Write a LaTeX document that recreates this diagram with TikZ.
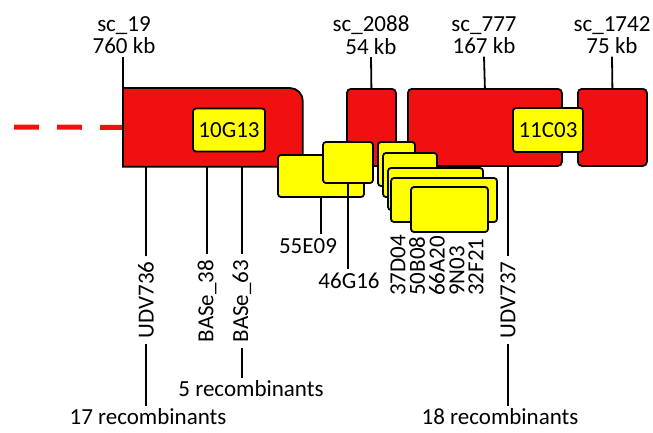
\documentclass[tikz,border=0pt]{standalone}
\usepackage{fontspec}
\setmainfont{Carlito}
\usetikzlibrary{positioning}

\definecolor{contigred}{RGB}{240,16,16}
\definecolor{bacyellow}{RGB}{255,255,0}

\tikzset{
  contig/.style={draw=black, fill=contigred, rounded corners=4pt, inner sep=0pt, minimum height=77pt},
  bigcontig/.style={draw=black, fill=contigred},
  bac/.style={draw=black, fill=bacyellow, rounded corners=3pt, inner sep=0pt},
  lbl/.style={align=center, inner sep=2pt},
  marker/.style={rotate=90, inner sep=5pt},
  recs/.style={inner sep=2pt},
  tail/.style={draw=contigred, line width=5pt, dash pattern=on 25pt off 18pt},
}

\begin{document}
\begin{tikzpicture}[x=1pt,y=-1pt,line width=1.8pt,font=\fontsize{23}{22.5}\selectfont]
    \useasboundingbox (0,0) rectangle (653,432);

    % scaffolds
    \node[inner sep=0pt, minimum width=178pt, minimum height=77pt, anchor=north west] (sc19) at (123,88) {};
    \coordinate (tailend) at (14,127);
    \draw[tail] (tailend) -- (sc19.west);
    \draw[bigcontig] (sc19.south west) -- (sc19.north west) [rounded corners=13pt] -- (sc19.north east) [sharp corners] -- (sc19.south east) -- cycle;
    \node[contig, minimum width=49pt, anchor=north west] (sc2088) at (346,88) {};
    \node[contig, minimum width=154pt, anchor=north west] (sc777) at (407,88) {};
    \node[contig, minimum width=69pt, anchor=north west] (sc1742) at (577,88) {};

    \node[lbl] (sc19lbl) at (124,35) {sc\_19\\760 kb};
    \node[lbl] (sc2088lbl) at (371,35) {sc\_2088\\54 kb};
    \node[lbl] (sc777lbl) at (484,35) {sc\_777\\167 kb};
    \node[lbl] (sc1742lbl) at (612,35) {sc\_1742\\75 kb};
    \draw (sc19lbl.south -| sc19.north west) -- (sc19.north west);
    \draw (sc2088lbl.south) -- (sc2088.north);
    \draw (sc777lbl.south) -- (sc777.north);
    \draw (sc1742lbl.south) -- (sc1742.north);

    % BAC clones
    \node[bac, minimum width=72pt, minimum height=43pt] (c10G13) at (229,130) {10G13};
    \node[bac, minimum width=70pt, minimum height=44pt] (c11C03) at (548,130) {11C03};
    \node[bac, minimum width=86pt, minimum height=42pt] (c55E09) at (321,176) {};
    \node[bac, minimum width=50pt, minimum height=41pt] (c46G16) at (348,162.5) {};
    \node (l55E09) at (308,246) {55E09};
    \node (l46G16) at (349,281) {46G16};
    \draw (c55E09.south) -- (c55E09.south |- l55E09.north);
    \draw (c46G16.south) -- (l46G16.north -| c46G16.south);
    \node[bac, minimum width=37pt, minimum height=44pt] (c37D04) at (396.5,164) {};
    \node[bac, minimum width=54pt, minimum height=44pt] (c50B08) at (410,175) {};
    \node[bac, minimum width=95pt, minimum height=42pt] (c66A20) at (435.5,189) {};
    \node[bac, minimum width=106pt, minimum height=44pt] (c9N03) at (444,200) {};
    \node[bac, minimum width=77pt, minimum height=45pt] (c32F21) at (449.5,209.5) {};
    \node[rotate=90, anchor=west] (l37D04) at (398,300) {37D04};
    \node[rotate=90, anchor=west] (l50B08) at (417,300) {50B08};
    \node[rotate=90, anchor=west] (l66A20) at (437,300) {66A20};
    \node[rotate=90, anchor=west] (l9N03) at (457,300) {9N03};
    \node[rotate=90, anchor=west] (l32F21) at (476,300) {32F21};

    % markers
    \node[marker] (udv736) at (146,300) {UDV736};
    \node[marker] (base38) at (207,301) {BASe\_38};
    \node[marker] (base63) at (242,301) {BASe\_63};
    \node[marker] (udv737) at (508,300) {UDV737};
    \node[recs] (rec17) at (148,417) {17 recombinants};
    \node[recs] (rec5) at (251,389) {5 recombinants};
    \node[recs] (rec18) at (500,417) {18 recombinants};
    \draw (udv736.east |- sc19.south) -- (udv736.east);
    \draw (base38.east |- sc19.south) -- (base38.east);
    \draw (base63.east |- sc19.south) -- (base63.east);
    \draw (udv737.east |- sc777.south) -- (udv737.east);
    \draw (udv736.west) -- (udv736.west |- rec17.north);
    \draw (base63.west) -- (base63.west |- rec5.north);
    \draw (udv737.west) -- (udv737.west |- rec18.north);
\end{tikzpicture}
\end{document}
